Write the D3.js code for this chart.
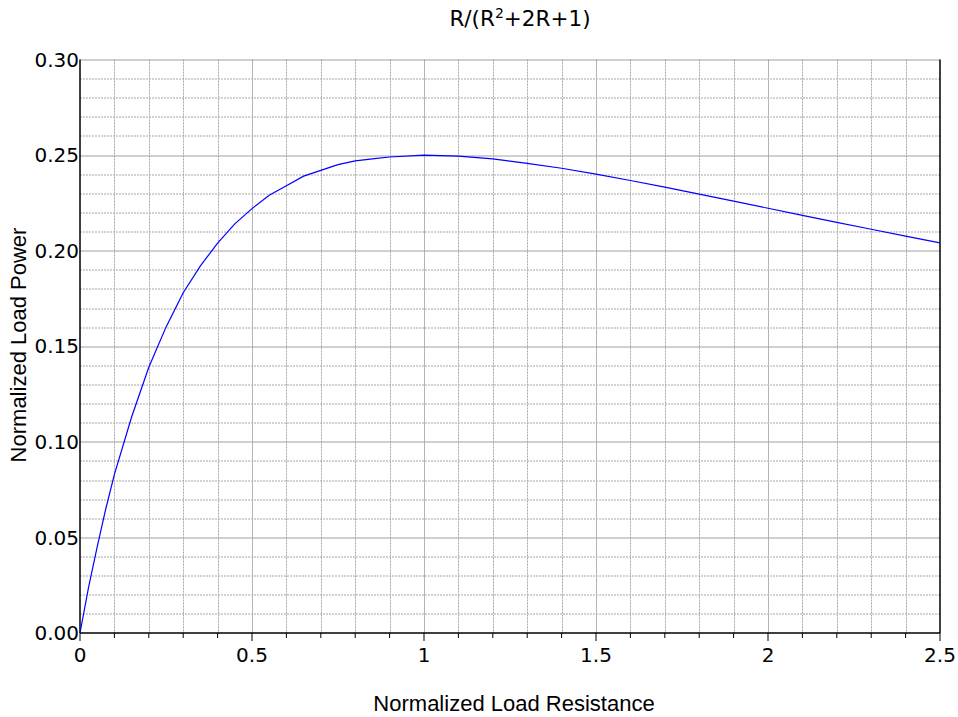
<!DOCTYPE html>
<html>
<head>
<meta charset="utf-8">
<script src="https://cdn.jsdelivr.net/npm/d3@7"></script>
<style>
  body { margin: 0; background: #fff; }
  svg { display: block; }
</style>
</head>
<body>
<div class="chart"></div>
<script>
// values
const resistance = [0, 0.025, 0.05, 0.075, 0.1, 0.15, 0.2, 0.25, 0.3, 0.35, 0.4, 0.45, 0.5,
  0.55, 0.6, 0.65, 0.7, 0.75, 0.8, 0.85, 0.9, 1.0, 1.1, 1.2, 1.3, 1.4, 1.5, 1.6, 1.7, 1.8, 1.9,
  2.0, 2.1, 2.2, 2.3, 2.4, 2.5];
const power = [0, 0.024, 0.045, 0.065, 0.083, 0.113, 0.139, 0.160, 0.178, 0.192, 0.204, 0.214, 0.222,
  0.229, 0.234, 0.239, 0.242, 0.245, 0.247, 0.248, 0.249, 0.250, 0.2495, 0.248, 0.2457, 0.2431, 0.240,
  0.2367, 0.2332, 0.2296, 0.2259, 0.2222, 0.2185, 0.2148, 0.2112, 0.2076, 0.2041];
const xTicks = [0, 0.5, 1, 1.5, 2, 2.5];
const xTickLabels = ["0", "0.5", "1", "1.5", "2", "2.5"];
const yTicks = [0, 0.05, 0.1, 0.15, 0.2, 0.25, 0.3];
const yTickLabels = ["0.00", "0.05", "0.10", "0.15", "0.20", "0.25", "0.30"];

const width = 958, height = 717;
const margin = { top: 59.5, right: 18, bottom: 84, left: 80 };
const innerW = width - margin.left - margin.right,
  innerH = height - margin.top - margin.bottom;

const svg = d3.select(".chart").append("svg")
  .attr("width", width)
  .attr("height", height);

const g = svg.append("g")
  .attr("transform", `translate(${margin.left},${margin.top})`);

const x = d3.scaleLinear().domain([0, 2.5]).range([0, innerW]);
const y = d3.scaleLinear().domain([0, 0.3]).range([innerH, 0]);

// minor grid (dotted)
const xMinor = d3.range(1, 25).map(i => i / 10).filter(v => Math.abs(v * 2 - Math.round(v * 2)) > 1e-6);
const yMinor = d3.range(1, 30).map(i => i / 100).filter(v => Math.abs(v * 20 - Math.round(v * 20)) > 1e-6);

g.selectAll(".xminor").data(xMinor).enter().append("line")
  .attr("x1", d => Math.round(x(d)) + 0.5).attr("x2", d => Math.round(x(d)) + 0.5)
  .attr("y1", 0).attr("y2", innerH)
  .attr("stroke", "#a8a8a8").attr("stroke-dasharray", "2,1");

g.selectAll(".yminor").data(yMinor).enter().append("line")
  .attr("y1", d => Math.round(y(d)) + 0.5).attr("y2", d => Math.round(y(d)) + 0.5)
  .attr("x1", 0).attr("x2", innerW)
  .attr("stroke", "#a8a8a8").attr("stroke-dasharray", "2,1");

// major grid (solid)
g.selectAll(".xmajor").data(xTicks.slice(1, -1)).enter().append("line")
  .attr("x1", d => Math.round(x(d)) + 0.5).attr("x2", d => Math.round(x(d)) + 0.5)
  .attr("y1", 0).attr("y2", innerH)
  .attr("stroke", "#b4b4b4");

g.selectAll(".ymajor").data(yTicks.slice(1)).enter().append("line")
  .attr("y1", d => Math.round(y(d)) + 0.5).attr("y2", d => Math.round(y(d)) + 0.5)
  .attr("x1", 0).attr("x2", innerW)
  .attr("stroke", "#a0a0a0");

// axes frame: left, bottom, right in black
g.append("line").attr("x1", 0).attr("x2", 0).attr("y1", 0).attr("y2", innerH)
  .attr("stroke", "#000").attr("stroke-width", 1.5);
g.append("line").attr("x1", innerW).attr("x2", innerW).attr("y1", 0).attr("y2", innerH)
  .attr("stroke", "#000").attr("stroke-width", 1.5);
g.append("line").attr("x1", 0).attr("x2", innerW).attr("y1", innerH).attr("y2", innerH)
  .attr("stroke", "#000").attr("stroke-width", 1.5);

// bottom ticks
const allXTicks = d3.range(0, 26).map(i => i / 10);
g.selectAll(".xtick").data(allXTicks).enter().append("line")
  .attr("x1", d => x(d)).attr("x2", d => x(d))
  .attr("y1", innerH)
  .attr("y2", (d, i) => innerH + (i % 5 === 0 ? 8 : 5))
  .attr("stroke", "#000");

// tick labels
g.selectAll(".xlabel").data(xTicks).enter().append("text")
  .attr("x", d => x(d))
  .attr("y", innerH + 29)
  .attr("text-anchor", "middle")
  .style("font-family", "DejaVu Sans")
  .style("font-size", "20px")
  .text((d, i) => xTickLabels[i]);

g.selectAll(".ylabel").data(yTicks).enter().append("text")
  .attr("x", -1)
  .attr("y", d => y(d))
  .attr("dy", "0.36em")
  .attr("text-anchor", "end")
  .style("font-family", "DejaVu Sans")
  .style("font-size", "20px")
  .text((d, i) => yTickLabels[i]);

// curve
const line = d3.line()
  .x((d, i) => x(resistance[i]))
  .y(d => y(d));

g.append("path")
  .datum(power)
  .attr("d", line)
  .attr("fill", "none")
  .attr("stroke", "#0000ff")
  .attr("stroke-width", 1.2);

// title
const title = svg.append("text")
  .attr("x", 520)
  .attr("y", 26)
  .attr("text-anchor", "middle")
  .style("font-family", "DejaVu Sans")
  .style("font-size", "21.5px");
title.append("tspan").text("R/(R");
title.append("tspan").attr("dy", -8).style("font-size", "14px").text("2");
title.append("tspan").attr("dy", 8).text("+2R+1)");

// axis titles
svg.append("text")
  .attr("x", 514)
  .attr("y", 711)
  .attr("text-anchor", "middle")
  .style("font-family", "Liberation Sans")
  .style("font-size", "22px")
  .text("Normalized Load Resistance");

svg.append("text")
  .attr("transform", "translate(26,345) rotate(-90)")
  .attr("text-anchor", "middle")
  .style("font-family", "Liberation Sans")
  .style("font-size", "22px")
  .text("Normalized Load Power");
</script>
</body>
</html>
